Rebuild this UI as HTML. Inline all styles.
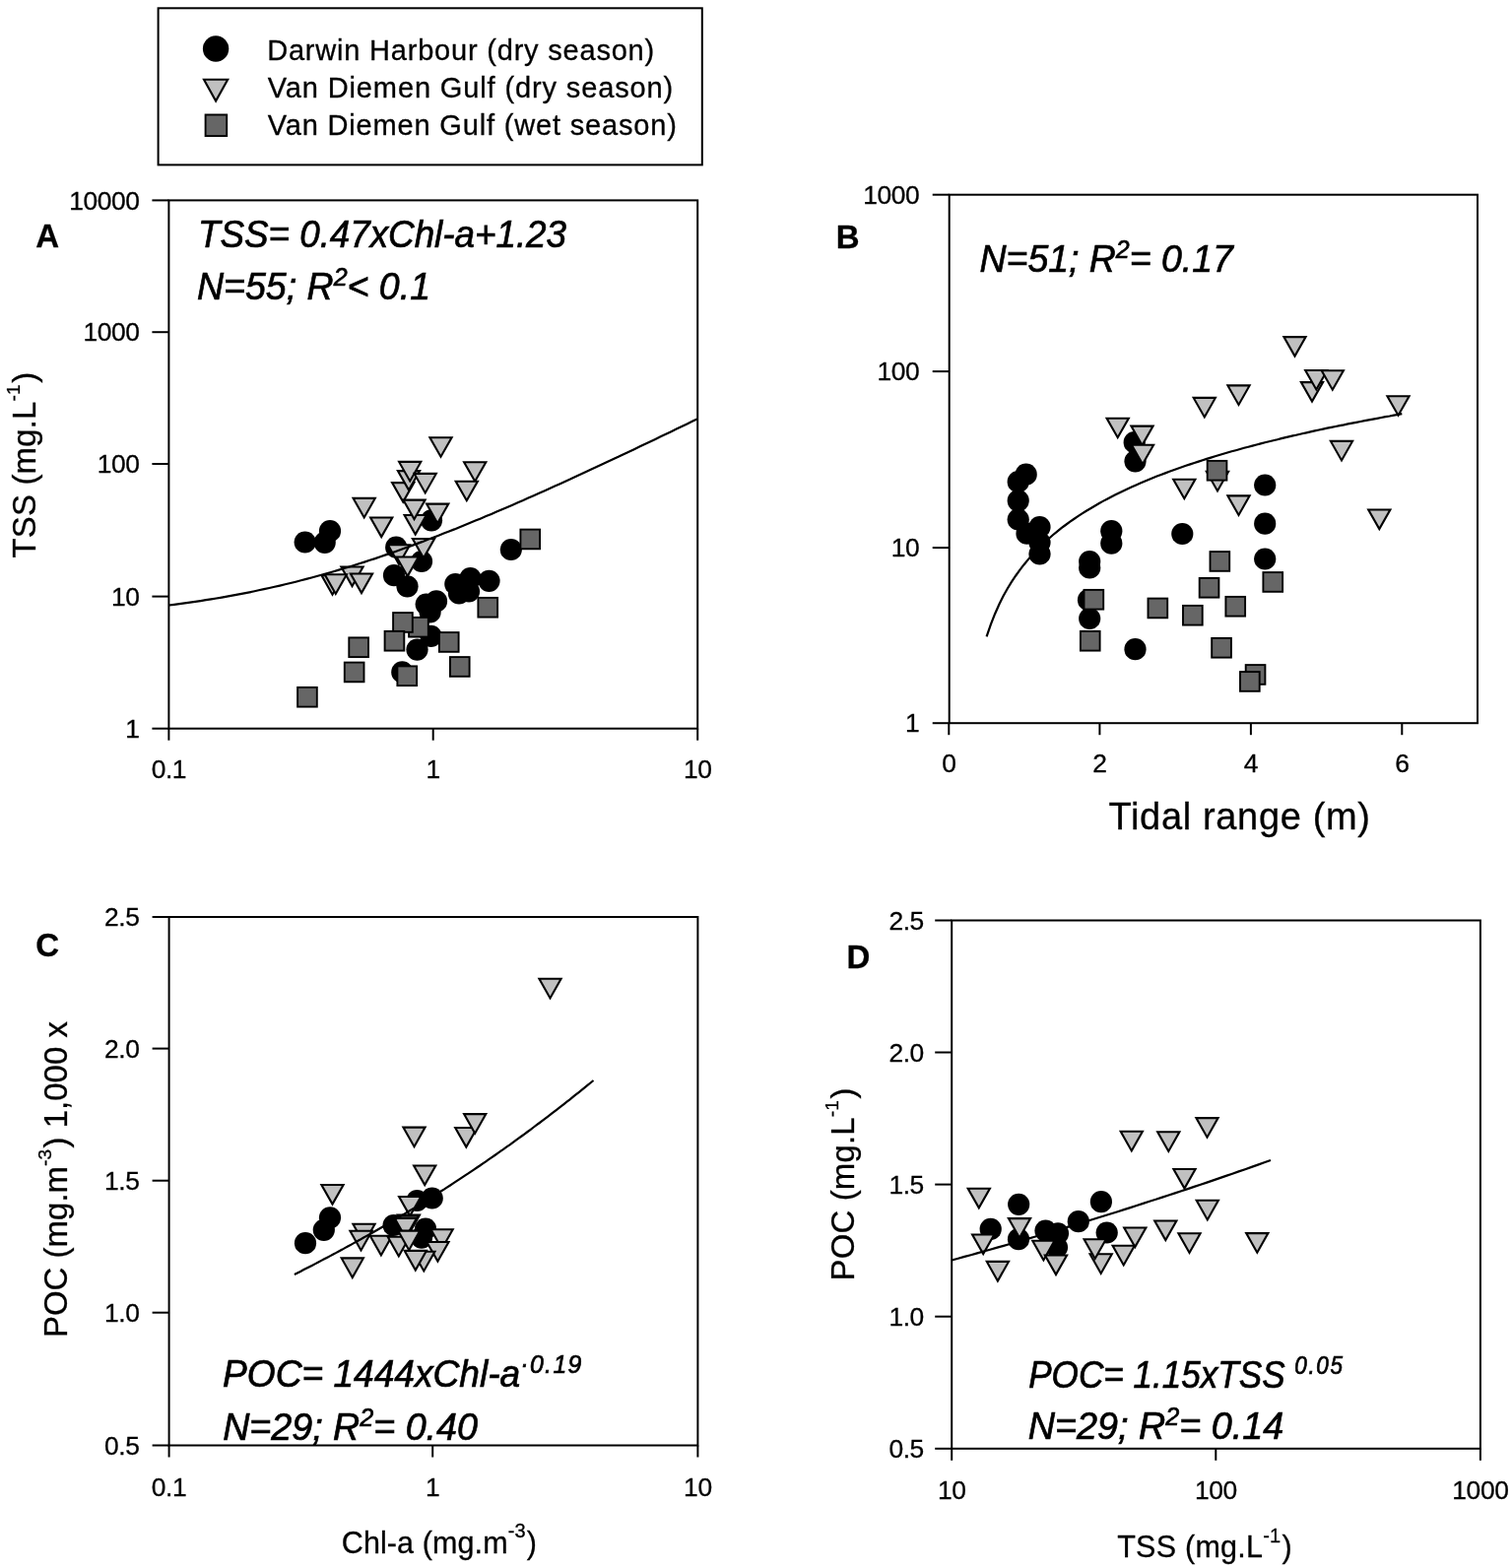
<!DOCTYPE html>
<html lang="en"><head><meta charset="utf-8"><title>TSS, Chl-a, POC and tidal range relationships</title>
<style>html,body{margin:0;padding:0;background:#fff}svg{display:block}text{font-family:'Liberation Sans', sans-serif;fill:#000;stroke:#000;stroke-width:0.3px}.it{stroke-width:0.7px}</style></head><body>
<svg width="1535" height="1592" viewBox="0 0 1535 1592">
<rect width="1535" height="1592" fill="#fff"/>
<g id="legend">
<rect x="160.6" y="8.3" width="552.2" height="159.1" fill="#fff" stroke="#000" stroke-width="2"/>
<circle cx="219.1" cy="49.5" r="13.2" fill="#000"/>
<path d="M207.0 80.8H231.2L219.1 102.6Z" fill="#c0c0c0" stroke="#000" stroke-width="2.1" stroke-linejoin="miter"/>
<rect x="208.6" y="116.5" width="21.6" height="21.6" fill="#666666" stroke="#000" stroke-width="1.9"/>
<text x="271.2" y="60.5" font-size="29" textLength="393.0" lengthAdjust="spacing">Darwin Harbour (dry season)</text>
<text x="271.7" y="99.0" font-size="29" textLength="411.5" lengthAdjust="spacing">Van Diemen Gulf (dry season)</text>
<text x="271.7" y="136.8" font-size="29" textLength="415.2" lengthAdjust="spacing">Van Diemen Gulf (wet season)</text>
</g>
<g id="plotA">
<rect x="171.4" y="203.4" width="536.8" height="536.3" fill="none" stroke="#000" stroke-width="2.0"/>
<line x1="154.4" y1="203.4" x2="171.4" y2="203.4" stroke="#000" stroke-width="2.0"/>
<text x="141.6" y="212.6" font-size="26.4" text-anchor="end" letter-spacing="-0.4">10000</text>
<line x1="154.4" y1="337.2" x2="171.4" y2="337.2" stroke="#000" stroke-width="2.0"/>
<text x="141.6" y="346.4" font-size="26.4" text-anchor="end" letter-spacing="-0.4">1000</text>
<line x1="154.4" y1="471.0" x2="171.4" y2="471.0" stroke="#000" stroke-width="2.0"/>
<text x="141.6" y="480.2" font-size="26.4" text-anchor="end" letter-spacing="-0.4">100</text>
<line x1="154.4" y1="605.6" x2="171.4" y2="605.6" stroke="#000" stroke-width="2.0"/>
<text x="141.6" y="614.8" font-size="26.4" text-anchor="end" letter-spacing="-0.4">10</text>
<line x1="154.4" y1="739.7" x2="171.4" y2="739.7" stroke="#000" stroke-width="2.0"/>
<text x="141.6" y="748.9" font-size="26.4" text-anchor="end" letter-spacing="-0.4">1</text>
<line x1="171.4" y1="739.7" x2="171.4" y2="751.7" stroke="#000" stroke-width="2.0"/>
<text x="171.4" y="790.2" font-size="26.4" text-anchor="middle" letter-spacing="-0.4">0.1</text>
<line x1="439.7" y1="739.7" x2="439.7" y2="751.7" stroke="#000" stroke-width="2.0"/>
<text x="439.7" y="790.2" font-size="26.4" text-anchor="middle" letter-spacing="-0.4">1</text>
<line x1="708.2" y1="739.7" x2="708.2" y2="751.7" stroke="#000" stroke-width="2.0"/>
<text x="708.2" y="790.2" font-size="26.4" text-anchor="middle" letter-spacing="-0.4">10</text>
<g><circle cx="309.7" cy="550.5" r="11.1" fill="#000"/><circle cx="329.7" cy="550.8" r="11.1" fill="#000"/><circle cx="335.0" cy="539.2" r="11.1" fill="#000"/><circle cx="402.2" cy="555.7" r="11.1" fill="#000"/><circle cx="438.0" cy="528.3" r="11.1" fill="#000"/><circle cx="428.0" cy="570.0" r="11.1" fill="#000"/><circle cx="400.0" cy="584.2" r="11.1" fill="#000"/><circle cx="413.5" cy="595.3" r="11.1" fill="#000"/><circle cx="518.8" cy="558.0" r="11.1" fill="#000"/><circle cx="462.3" cy="593.0" r="11.1" fill="#000"/><circle cx="477.5" cy="587.0" r="11.1" fill="#000"/><circle cx="496.5" cy="589.8" r="11.1" fill="#000"/><circle cx="466.0" cy="602.5" r="11.1" fill="#000"/><circle cx="476.0" cy="600.5" r="11.1" fill="#000"/><circle cx="432.7" cy="613.6" r="11.1" fill="#000"/><circle cx="443.0" cy="610.4" r="11.1" fill="#000"/><circle cx="436.6" cy="621.4" r="11.1" fill="#000"/><circle cx="437.5" cy="645.8" r="11.1" fill="#000"/><circle cx="423.5" cy="659.6" r="11.1" fill="#000"/><circle cx="408.3" cy="682.4" r="11.1" fill="#000"/></g>
<g><path d="M436.4 444.2H458.6L447.5 463.7Z" fill="#c0c0c0" stroke="#000" stroke-width="2.1" stroke-linejoin="miter"/><path d="M398.1 490.1H420.3L409.2 509.6Z" fill="#c0c0c0" stroke="#000" stroke-width="2.1" stroke-linejoin="miter"/><path d="M403.9 478.1H426.1L415.0 497.6Z" fill="#c0c0c0" stroke="#000" stroke-width="2.1" stroke-linejoin="miter"/><path d="M405.1 468.9H427.3L416.2 488.4Z" fill="#c0c0c0" stroke="#000" stroke-width="2.1" stroke-linejoin="miter"/><path d="M471.1 469.2H493.3L482.2 488.7Z" fill="#c0c0c0" stroke="#000" stroke-width="2.1" stroke-linejoin="miter"/><path d="M420.6 480.9H442.8L431.7 500.4Z" fill="#c0c0c0" stroke="#000" stroke-width="2.1" stroke-linejoin="miter"/><path d="M462.7 488.7H484.9L473.8 508.2Z" fill="#c0c0c0" stroke="#000" stroke-width="2.1" stroke-linejoin="miter"/><path d="M358.6 505.9H380.8L369.7 525.4Z" fill="#c0c0c0" stroke="#000" stroke-width="2.1" stroke-linejoin="miter"/><path d="M410.6 523.0H432.8L421.7 542.6Z" fill="#c0c0c0" stroke="#000" stroke-width="2.1" stroke-linejoin="miter"/><path d="M409.4 507.6H431.6L420.5 527.1Z" fill="#c0c0c0" stroke="#000" stroke-width="2.1" stroke-linejoin="miter"/><path d="M433.1 511.6H455.3L444.2 531.2Z" fill="#c0c0c0" stroke="#000" stroke-width="2.1" stroke-linejoin="miter"/><path d="M376.1 525.5H398.3L387.2 545.1Z" fill="#c0c0c0" stroke="#000" stroke-width="2.1" stroke-linejoin="miter"/><path d="M418.9 547.0H441.1L430.0 566.6Z" fill="#c0c0c0" stroke="#000" stroke-width="2.1" stroke-linejoin="miter"/><path d="M393.9 553.3H416.1L405.0 572.9Z" fill="#c0c0c0" stroke="#000" stroke-width="2.1" stroke-linejoin="miter"/><path d="M402.6 565.5H424.8L413.7 585.1Z" fill="#c0c0c0" stroke="#000" stroke-width="2.1" stroke-linejoin="miter"/><path d="M346.4 575.5H368.6L357.5 595.1Z" fill="#c0c0c0" stroke="#000" stroke-width="2.1" stroke-linejoin="miter"/><path d="M326.4 584.1H348.6L337.5 603.7Z" fill="#c0c0c0" stroke="#000" stroke-width="2.1" stroke-linejoin="miter"/><path d="M329.7 583.3H351.9L340.8 602.9Z" fill="#c0c0c0" stroke="#000" stroke-width="2.1" stroke-linejoin="miter"/><path d="M355.9 582.5H378.1L367.0 602.1Z" fill="#c0c0c0" stroke="#000" stroke-width="2.1" stroke-linejoin="miter"/></g>
<g><rect x="302.1" y="697.9" width="19.7" height="19.7" fill="#666666" stroke="#000" stroke-width="1.9"/><rect x="349.8" y="672.6" width="19.7" height="19.7" fill="#666666" stroke="#000" stroke-width="1.9"/><rect x="354.3" y="647.4" width="19.7" height="19.7" fill="#666666" stroke="#000" stroke-width="1.9"/><rect x="415.1" y="626.9" width="19.7" height="19.7" fill="#666666" stroke="#000" stroke-width="1.9"/><rect x="399.1" y="622.1" width="19.7" height="19.7" fill="#666666" stroke="#000" stroke-width="1.9"/><rect x="390.6" y="640.9" width="19.7" height="19.7" fill="#666666" stroke="#000" stroke-width="1.9"/><rect x="445.9" y="642.1" width="19.7" height="19.7" fill="#666666" stroke="#000" stroke-width="1.9"/><rect x="456.9" y="667.1" width="19.7" height="19.7" fill="#666666" stroke="#000" stroke-width="1.9"/><rect x="403.4" y="676.4" width="19.7" height="19.7" fill="#666666" stroke="#000" stroke-width="1.9"/><rect x="485.4" y="606.9" width="19.7" height="19.7" fill="#666666" stroke="#000" stroke-width="1.9"/><rect x="528.4" y="537.6" width="19.7" height="19.7" fill="#666666" stroke="#000" stroke-width="1.9"/></g>
<path d="M171.4 614.5 L176.8 613.8 L182.1 613.1 L187.5 612.4 L192.9 611.6 L198.2 610.9 L203.6 610.1 L209.0 609.2 L214.3 608.4 L219.7 607.5 L225.1 606.6 L230.4 605.6 L235.8 604.6 L241.2 603.6 L246.6 602.6 L251.9 601.6 L257.3 600.5 L262.7 599.3 L268.0 598.2 L273.4 597.0 L278.8 595.8 L284.1 594.6 L289.5 593.3 L294.9 592.0 L300.2 590.7 L305.6 589.3 L311.0 587.9 L316.3 586.5 L321.7 585.0 L327.1 583.5 L332.4 582.0 L337.8 580.5 L343.2 578.9 L348.5 577.3 L353.9 575.7 L359.3 574.0 L364.6 572.3 L370.0 570.6 L375.4 568.8 L380.8 567.1 L386.1 565.2 L391.5 563.4 L396.9 561.6 L402.2 559.7 L407.6 557.8 L413.0 555.8 L418.3 553.9 L423.7 551.9 L429.1 549.9 L434.4 547.8 L439.8 545.8 L445.2 543.7 L450.5 541.6 L455.9 539.5 L461.3 537.4 L466.6 535.2 L472.0 533.0 L477.4 530.8 L482.7 528.6 L488.1 526.4 L493.5 524.1 L498.8 521.9 L504.2 519.6 L509.6 517.3 L515.0 515.0 L520.3 512.7 L525.7 510.3 L531.1 508.0 L536.4 505.6 L541.8 503.2 L547.2 500.8 L552.5 498.4 L557.9 496.0 L563.3 493.6 L568.6 491.2 L574.0 488.7 L579.4 486.3 L584.7 483.8 L590.1 481.3 L595.5 478.8 L600.8 476.3 L606.2 473.8 L611.6 471.3 L616.9 468.8 L622.3 466.3 L627.7 463.8 L633.0 461.2 L638.4 458.7 L643.8 456.2 L649.2 453.6 L654.5 451.0 L659.9 448.5 L665.3 445.9 L670.6 443.3 L676.0 440.8 L681.4 438.2 L686.7 435.6 L692.1 433.0 L697.5 430.4 L702.8 427.8 L708.2 425.2" fill="none" stroke="#000" stroke-width="2.2" stroke-linecap="butt"/>
<text x="36.3" y="250.9" font-size="33" font-weight="bold">A</text>
<text class="it" transform="translate(201.0 250.6) scale(0.943 1)" font-size="39" font-style="italic">TSS= 0.47xChl-a+1.23</text>
<text class="it" transform="translate(200.0 303.6) scale(0.962 1)" font-size="39" font-style="italic">N=55; R<tspan font-size="26" dy="-14">2</tspan><tspan dy="14">&lt; 0.1</tspan></text>
<text x="35.8" y="566.5" font-size="32.9" letter-spacing="0.2" transform="rotate(-90 35.8 566.5)">TSS (mg.L<tspan font-size="19" dy="-16">-1</tspan><tspan dy="16" dx="1.5">)</tspan></text>
</g>
<g id="plotB">
<rect x="963.7" y="197.7" width="536.3" height="536.5" fill="none" stroke="#000" stroke-width="2.0"/>
<line x1="946.7" y1="197.7" x2="963.7" y2="197.7" stroke="#000" stroke-width="2.0"/>
<text x="933.4" y="206.9" font-size="26.4" text-anchor="end" letter-spacing="-0.4">1000</text>
<line x1="946.7" y1="377.1" x2="963.7" y2="377.1" stroke="#000" stroke-width="2.0"/>
<text x="933.4" y="386.3" font-size="26.4" text-anchor="end" letter-spacing="-0.4">100</text>
<line x1="946.7" y1="556.1" x2="963.7" y2="556.1" stroke="#000" stroke-width="2.0"/>
<text x="933.4" y="565.3" font-size="26.4" text-anchor="end" letter-spacing="-0.4">10</text>
<line x1="946.7" y1="734.2" x2="963.7" y2="734.2" stroke="#000" stroke-width="2.0"/>
<text x="933.4" y="743.4" font-size="26.4" text-anchor="end" letter-spacing="-0.4">1</text>
<line x1="963.3" y1="734.2" x2="963.3" y2="746.2" stroke="#000" stroke-width="2.0"/>
<text x="963.3" y="783.7" font-size="26.4" text-anchor="middle" letter-spacing="-0.4">0</text>
<line x1="1116.4" y1="734.2" x2="1116.4" y2="746.2" stroke="#000" stroke-width="2.0"/>
<text x="1116.4" y="783.7" font-size="26.4" text-anchor="middle" letter-spacing="-0.4">2</text>
<line x1="1269.9" y1="734.2" x2="1269.9" y2="746.2" stroke="#000" stroke-width="2.0"/>
<text x="1269.9" y="783.7" font-size="26.4" text-anchor="middle" letter-spacing="-0.4">4</text>
<line x1="1423.3" y1="734.2" x2="1423.3" y2="746.2" stroke="#000" stroke-width="2.0"/>
<text x="1423.3" y="783.7" font-size="26.4" text-anchor="middle" letter-spacing="-0.4">6</text>
<g><circle cx="1041.7" cy="481.7" r="11.1" fill="#000"/><circle cx="1033.7" cy="489.2" r="11.1" fill="#000"/><circle cx="1033.7" cy="508.3" r="11.1" fill="#000"/><circle cx="1033.7" cy="527.5" r="11.1" fill="#000"/><circle cx="1042.5" cy="541.7" r="11.1" fill="#000"/><circle cx="1055.5" cy="535.0" r="11.1" fill="#000"/><circle cx="1055.5" cy="550.8" r="11.1" fill="#000"/><circle cx="1055.5" cy="562.5" r="11.1" fill="#000"/><circle cx="1128.3" cy="539.2" r="11.1" fill="#000"/><circle cx="1128.3" cy="551.7" r="11.1" fill="#000"/><circle cx="1106.2" cy="570.0" r="11.1" fill="#000"/><circle cx="1106.2" cy="576.5" r="11.1" fill="#000"/><circle cx="1200.3" cy="542.0" r="11.1" fill="#000"/><circle cx="1151.7" cy="449.2" r="11.1" fill="#000"/><circle cx="1152.5" cy="468.3" r="11.1" fill="#000"/><circle cx="1105.0" cy="609.2" r="11.1" fill="#000"/><circle cx="1106.2" cy="628.0" r="11.1" fill="#000"/><circle cx="1152.5" cy="659.2" r="11.1" fill="#000"/><circle cx="1284.2" cy="492.5" r="11.1" fill="#000"/><circle cx="1284.2" cy="531.7" r="11.1" fill="#000"/><circle cx="1284.2" cy="567.5" r="11.1" fill="#000"/></g>
<g><path d="M1123.6 424.7H1145.8L1134.7 444.2Z" fill="#c0c0c0" stroke="#000" stroke-width="2.1" stroke-linejoin="miter"/><path d="M1148.4 432.6H1170.6L1159.5 452.1Z" fill="#c0c0c0" stroke="#000" stroke-width="2.1" stroke-linejoin="miter"/><path d="M1148.9 451.7H1171.1L1160.0 471.2Z" fill="#c0c0c0" stroke="#000" stroke-width="2.1" stroke-linejoin="miter"/><path d="M1211.7 403.9H1233.9L1222.8 423.4Z" fill="#c0c0c0" stroke="#000" stroke-width="2.1" stroke-linejoin="miter"/><path d="M1191.2 486.7H1213.4L1202.3 506.2Z" fill="#c0c0c0" stroke="#000" stroke-width="2.1" stroke-linejoin="miter"/><path d="M1224.9 478.9H1247.1L1236.0 498.4Z" fill="#c0c0c0" stroke="#000" stroke-width="2.1" stroke-linejoin="miter"/><path d="M1303.4 342.1H1325.6L1314.5 361.6Z" fill="#c0c0c0" stroke="#000" stroke-width="2.1" stroke-linejoin="miter"/><path d="M1320.9 388.1H1343.1L1332.0 407.6Z" fill="#c0c0c0" stroke="#000" stroke-width="2.1" stroke-linejoin="miter"/><path d="M1325.2 376.0H1347.4L1336.3 395.5Z" fill="#c0c0c0" stroke="#000" stroke-width="2.1" stroke-linejoin="miter"/><path d="M1341.7 376.2H1363.9L1352.8 395.7Z" fill="#c0c0c0" stroke="#000" stroke-width="2.1" stroke-linejoin="miter"/><path d="M1246.4 391.4H1268.6L1257.5 410.9Z" fill="#c0c0c0" stroke="#000" stroke-width="2.1" stroke-linejoin="miter"/><path d="M1408.4 402.2H1430.6L1419.5 421.7Z" fill="#c0c0c0" stroke="#000" stroke-width="2.1" stroke-linejoin="miter"/><path d="M1350.9 447.9H1373.1L1362.0 467.4Z" fill="#c0c0c0" stroke="#000" stroke-width="2.1" stroke-linejoin="miter"/><path d="M1246.4 503.4H1268.6L1257.5 522.9Z" fill="#c0c0c0" stroke="#000" stroke-width="2.1" stroke-linejoin="miter"/><path d="M1389.2 517.5H1411.4L1400.3 537.1Z" fill="#c0c0c0" stroke="#000" stroke-width="2.1" stroke-linejoin="miter"/></g>
<g><rect x="1225.7" y="467.9" width="19.7" height="19.7" fill="#666666" stroke="#000" stroke-width="1.9"/><rect x="1100.5" y="598.9" width="19.7" height="19.7" fill="#666666" stroke="#000" stroke-width="1.9"/><rect x="1096.9" y="640.9" width="19.7" height="19.7" fill="#666666" stroke="#000" stroke-width="1.9"/><rect x="1165.5" y="607.6" width="19.7" height="19.7" fill="#666666" stroke="#000" stroke-width="1.9"/><rect x="1201.0" y="614.9" width="19.7" height="19.7" fill="#666666" stroke="#000" stroke-width="1.9"/><rect x="1217.7" y="586.9" width="19.7" height="19.7" fill="#666666" stroke="#000" stroke-width="1.9"/><rect x="1228.5" y="560.1" width="19.7" height="19.7" fill="#666666" stroke="#000" stroke-width="1.9"/><rect x="1244.4" y="605.9" width="19.7" height="19.7" fill="#666666" stroke="#000" stroke-width="1.9"/><rect x="1282.4" y="581.1" width="19.7" height="19.7" fill="#666666" stroke="#000" stroke-width="1.9"/><rect x="1230.2" y="647.9" width="19.7" height="19.7" fill="#666666" stroke="#000" stroke-width="1.9"/><rect x="1264.7" y="675.1" width="19.7" height="19.7" fill="#666666" stroke="#000" stroke-width="1.9"/><rect x="1259.0" y="682.1" width="19.7" height="19.7" fill="#666666" stroke="#000" stroke-width="1.9"/></g>
<path d="M1001.6 646.3 L1005.9 633.9 L1010.1 623.2 L1014.3 613.7 L1018.5 605.3 L1022.7 597.8 L1026.9 590.9 L1031.2 584.5 L1035.4 578.7 L1039.6 573.2 L1043.8 568.1 L1048.0 563.3 L1052.2 558.8 L1056.5 554.6 L1060.7 550.5 L1064.9 546.7 L1069.1 543.0 L1073.3 539.6 L1077.5 536.2 L1081.8 533.0 L1086.0 529.9 L1090.2 527.0 L1094.4 524.1 L1098.6 521.4 L1102.8 518.7 L1107.1 516.2 L1111.3 513.7 L1115.5 511.3 L1119.7 508.9 L1123.9 506.7 L1128.1 504.5 L1132.4 502.3 L1136.6 500.2 L1140.8 498.2 L1145.0 496.2 L1149.2 494.3 L1153.4 492.4 L1157.7 490.6 L1161.9 488.8 L1166.1 487.0 L1170.3 485.3 L1174.5 483.6 L1178.7 482.0 L1183.0 480.4 L1187.2 478.8 L1191.4 477.3 L1195.6 475.7 L1199.8 474.3 L1204.0 472.8 L1208.3 471.4 L1212.5 470.0 L1216.7 468.6 L1220.9 467.2 L1225.1 465.9 L1229.3 464.6 L1233.6 463.3 L1237.8 462.0 L1242.0 460.8 L1246.2 459.5 L1250.4 458.3 L1254.6 457.2 L1258.9 456.0 L1263.1 454.8 L1267.3 453.7 L1271.5 452.6 L1275.7 451.5 L1279.9 450.4 L1284.2 449.3 L1288.4 448.2 L1292.6 447.2 L1296.8 446.2 L1301.0 445.1 L1305.2 444.1 L1309.5 443.1 L1313.7 442.2 L1317.9 441.2 L1322.1 440.2 L1326.3 439.3 L1330.5 438.4 L1334.8 437.4 L1339.0 436.5 L1343.2 435.6 L1347.4 434.7 L1351.6 433.9 L1355.9 433.0 L1360.1 432.1 L1364.3 431.3 L1368.5 430.4 L1372.7 429.6 L1376.9 428.8 L1381.2 428.0 L1385.4 427.2 L1389.6 426.4 L1393.8 425.6 L1398.0 424.8 L1402.2 424.0 L1406.5 423.2 L1410.7 422.5 L1414.9 421.7 L1419.1 421.0 L1423.3 420.2" fill="none" stroke="#000" stroke-width="2.2" stroke-linecap="butt"/>
<text x="848.8" y="251.9" font-size="33" font-weight="bold">B</text>
<text class="it" transform="translate(994.5 275.5) scale(0.96 1)" font-size="39" font-style="italic">N=51; R<tspan font-size="26" dy="-14">2</tspan><tspan dy="14">= 0.17</tspan></text>
<text x="1125.5" y="841.5" font-size="38" textLength="265.5" lengthAdjust="spacing" stroke-width="0.6">Tidal range (m)</text>
</g>
<g id="plotC">
<rect x="171.6" y="931.0" width="536.8" height="536.5" fill="none" stroke="#000" stroke-width="2.0"/>
<line x1="154.6" y1="931.0" x2="171.6" y2="931.0" stroke="#000" stroke-width="2.0"/>
<text x="141.5" y="940.2" font-size="26.4" text-anchor="end" letter-spacing="-0.4">2.5</text>
<line x1="154.6" y1="1064.6" x2="171.6" y2="1064.6" stroke="#000" stroke-width="2.0"/>
<text x="141.5" y="1073.8" font-size="26.4" text-anchor="end" letter-spacing="-0.4">2.0</text>
<line x1="154.6" y1="1198.7" x2="171.6" y2="1198.7" stroke="#000" stroke-width="2.0"/>
<text x="141.5" y="1207.9" font-size="26.4" text-anchor="end" letter-spacing="-0.4">1.5</text>
<line x1="154.6" y1="1332.7" x2="171.6" y2="1332.7" stroke="#000" stroke-width="2.0"/>
<text x="141.5" y="1341.9" font-size="26.4" text-anchor="end" letter-spacing="-0.4">1.0</text>
<line x1="154.6" y1="1467.5" x2="171.6" y2="1467.5" stroke="#000" stroke-width="2.0"/>
<text x="141.5" y="1476.7" font-size="26.4" text-anchor="end" letter-spacing="-0.4">0.5</text>
<line x1="171.6" y1="1467.5" x2="171.6" y2="1479.5" stroke="#000" stroke-width="2.0"/>
<text x="171.6" y="1518.7" font-size="26.4" text-anchor="middle" letter-spacing="-0.4">0.1</text>
<line x1="439.2" y1="1467.5" x2="439.2" y2="1479.5" stroke="#000" stroke-width="2.0"/>
<text x="439.2" y="1518.7" font-size="26.4" text-anchor="middle" letter-spacing="-0.4">1</text>
<line x1="708.4" y1="1467.5" x2="708.4" y2="1479.5" stroke="#000" stroke-width="2.0"/>
<text x="708.4" y="1518.7" font-size="26.4" text-anchor="middle" letter-spacing="-0.4">10</text>
<g><circle cx="310.0" cy="1262.2" r="11.1" fill="#000"/><circle cx="328.8" cy="1248.8" r="11.1" fill="#000"/><circle cx="335.0" cy="1236.3" r="11.1" fill="#000"/><circle cx="399.6" cy="1244.0" r="11.1" fill="#000"/><circle cx="423.4" cy="1219.0" r="11.1" fill="#000"/><circle cx="438.7" cy="1216.5" r="11.1" fill="#000"/><circle cx="432.0" cy="1247.7" r="11.1" fill="#000"/><circle cx="428.0" cy="1256.6" r="11.1" fill="#000"/></g>
<g><path d="M462.2 1145.0H484.4L473.3 1164.6Z" fill="#c0c0c0" stroke="#000" stroke-width="2.1" stroke-linejoin="miter"/><path d="M471.1 1131.1H493.3L482.2 1150.7Z" fill="#c0c0c0" stroke="#000" stroke-width="2.1" stroke-linejoin="miter"/><path d="M409.4 1144.6H431.6L420.5 1164.2Z" fill="#c0c0c0" stroke="#000" stroke-width="2.1" stroke-linejoin="miter"/><path d="M420.1 1183.5H442.3L431.2 1203.1Z" fill="#c0c0c0" stroke="#000" stroke-width="2.1" stroke-linejoin="miter"/><path d="M326.4 1203.0H348.6L337.5 1222.6Z" fill="#c0c0c0" stroke="#000" stroke-width="2.1" stroke-linejoin="miter"/><path d="M405.1 1215.0H427.3L416.2 1234.6Z" fill="#c0c0c0" stroke="#000" stroke-width="2.1" stroke-linejoin="miter"/><path d="M403.8 1233.5H426.0L414.9 1253.1Z" fill="#c0c0c0" stroke="#000" stroke-width="2.1" stroke-linejoin="miter"/><path d="M402.6 1234.8H424.8L413.7 1254.3Z" fill="#c0c0c0" stroke="#000" stroke-width="2.1" stroke-linejoin="miter"/><path d="M400.7 1237.0H422.9L411.8 1256.6Z" fill="#c0c0c0" stroke="#000" stroke-width="2.1" stroke-linejoin="miter"/><path d="M358.4 1242.8H380.6L369.5 1262.4Z" fill="#c0c0c0" stroke="#000" stroke-width="2.1" stroke-linejoin="miter"/><path d="M355.4 1249.8H377.6L366.5 1269.4Z" fill="#c0c0c0" stroke="#000" stroke-width="2.1" stroke-linejoin="miter"/><path d="M375.8 1254.8H398.0L386.9 1274.4Z" fill="#c0c0c0" stroke="#000" stroke-width="2.1" stroke-linejoin="miter"/><path d="M393.7 1255.8H415.9L404.8 1275.4Z" fill="#c0c0c0" stroke="#000" stroke-width="2.1" stroke-linejoin="miter"/><path d="M404.1 1249.6H426.3L415.2 1269.2Z" fill="#c0c0c0" stroke="#000" stroke-width="2.1" stroke-linejoin="miter"/><path d="M437.5 1248.3H459.7L448.6 1267.9Z" fill="#c0c0c0" stroke="#000" stroke-width="2.1" stroke-linejoin="miter"/><path d="M433.3 1261.0H455.5L444.4 1280.6Z" fill="#c0c0c0" stroke="#000" stroke-width="2.1" stroke-linejoin="miter"/><path d="M419.2 1270.8H441.4L430.3 1290.4Z" fill="#c0c0c0" stroke="#000" stroke-width="2.1" stroke-linejoin="miter"/><path d="M410.7 1269.9H432.9L421.8 1289.5Z" fill="#c0c0c0" stroke="#000" stroke-width="2.1" stroke-linejoin="miter"/><path d="M346.7 1277.4H368.9L357.8 1297.0Z" fill="#c0c0c0" stroke="#000" stroke-width="2.1" stroke-linejoin="miter"/><path d="M547.4 993.8H569.6L558.5 1013.4Z" fill="#c0c0c0" stroke="#000" stroke-width="2.1" stroke-linejoin="miter"/></g>
<g></g>
<path d="M298.9 1293.9 L301.9 1292.4 L305.0 1290.9 L308.0 1289.3 L311.0 1287.8 L314.1 1286.2 L317.1 1284.7 L320.1 1283.1 L323.2 1281.5 L326.2 1279.9 L329.2 1278.3 L332.3 1276.7 L335.3 1275.1 L338.3 1273.5 L341.4 1271.9 L344.4 1270.2 L347.5 1268.6 L350.5 1266.9 L353.5 1265.3 L356.6 1263.6 L359.6 1261.9 L362.6 1260.2 L365.7 1258.6 L368.7 1256.8 L371.7 1255.1 L374.8 1253.4 L377.8 1251.7 L380.8 1250.0 L383.9 1248.2 L386.9 1246.5 L390.0 1244.7 L393.0 1242.9 L396.0 1241.1 L399.1 1239.4 L402.1 1237.6 L405.1 1235.8 L408.2 1233.9 L411.2 1232.1 L414.2 1230.3 L417.3 1228.4 L420.3 1226.6 L423.3 1224.7 L426.4 1222.9 L429.4 1221.0 L432.5 1219.1 L435.5 1217.2 L438.5 1215.3 L441.6 1213.4 L444.6 1211.5 L447.6 1209.5 L450.7 1207.6 L453.7 1205.6 L456.7 1203.7 L459.8 1201.7 L462.8 1199.7 L465.9 1197.7 L468.9 1195.7 L471.9 1193.7 L475.0 1191.7 L478.0 1189.6 L481.0 1187.6 L484.1 1185.5 L487.1 1183.5 L490.1 1181.4 L493.2 1179.3 L496.2 1177.2 L499.2 1175.1 L502.3 1173.0 L505.3 1170.9 L508.4 1168.7 L511.4 1166.6 L514.4 1164.4 L517.5 1162.3 L520.5 1160.1 L523.5 1157.9 L526.6 1155.7 L529.6 1153.5 L532.6 1151.3 L535.7 1149.0 L538.7 1146.8 L541.7 1144.5 L544.8 1142.2 L547.8 1140.0 L550.9 1137.7 L553.9 1135.4 L556.9 1133.1 L560.0 1130.7 L563.0 1128.4 L566.0 1126.1 L569.1 1123.7 L572.1 1121.3 L575.1 1118.9 L578.2 1116.6 L581.2 1114.1 L584.2 1111.7 L587.3 1109.3 L590.3 1106.9 L593.4 1104.4 L596.4 1101.9 L599.4 1099.5 L602.5 1097.0" fill="none" stroke="#000" stroke-width="2.2" stroke-linecap="butt"/>
<text x="36.3" y="971.0" font-size="33" font-weight="bold">C</text>
<text class="it" transform="translate(226.0 1407.5) scale(0.952 1)" font-size="39" font-style="italic">POC= 1444xChl-a<tspan font-size="26" dy="-14" letter-spacing="1.5">&#183;0.19</tspan></text>
<text class="it" transform="translate(226.2 1461.5) scale(0.965 1)" font-size="39" font-style="italic">N=29; R<tspan font-size="26" dy="-14">2</tspan><tspan dy="14">= 0.40</tspan></text>
<text x="67.5" y="1358.0" font-size="32.9" letter-spacing="0.05" transform="rotate(-90 67.5 1358.0)">POC (mg.m<tspan font-size="19" dy="-15.5">-3</tspan><tspan dy="15.5" dx="1.5">) 1,000 x</tspan></text>
<text x="346.8" y="1576.5" font-size="30.5" letter-spacing="0.1">Chl-a (mg.m<tspan font-size="20" dy="-15.5">-3</tspan><tspan dy="15.5" dx="1">)</tspan></text>
</g>
<g id="plotD">
<rect x="966.2" y="934.5" width="536.7" height="536.3" fill="none" stroke="#000" stroke-width="2.0"/>
<line x1="949.2" y1="934.5" x2="966.2" y2="934.5" stroke="#000" stroke-width="2.0"/>
<text x="937.9" y="943.7" font-size="26.4" text-anchor="end" letter-spacing="-0.4">2.5</text>
<line x1="949.2" y1="1068.5" x2="966.2" y2="1068.5" stroke="#000" stroke-width="2.0"/>
<text x="937.9" y="1077.7" font-size="26.4" text-anchor="end" letter-spacing="-0.4">2.0</text>
<line x1="949.2" y1="1202.6" x2="966.2" y2="1202.6" stroke="#000" stroke-width="2.0"/>
<text x="937.9" y="1211.8" font-size="26.4" text-anchor="end" letter-spacing="-0.4">1.5</text>
<line x1="949.2" y1="1336.7" x2="966.2" y2="1336.7" stroke="#000" stroke-width="2.0"/>
<text x="937.9" y="1345.9" font-size="26.4" text-anchor="end" letter-spacing="-0.4">1.0</text>
<line x1="949.2" y1="1470.8" x2="966.2" y2="1470.8" stroke="#000" stroke-width="2.0"/>
<text x="937.9" y="1480.0" font-size="26.4" text-anchor="end" letter-spacing="-0.4">0.5</text>
<line x1="966.2" y1="1470.8" x2="966.2" y2="1482.8" stroke="#000" stroke-width="2.0"/>
<text x="966.2" y="1522.0" font-size="26.4" text-anchor="middle" letter-spacing="-0.4">10</text>
<line x1="1234.3" y1="1470.8" x2="1234.3" y2="1482.8" stroke="#000" stroke-width="2.0"/>
<text x="1234.3" y="1522.0" font-size="26.4" text-anchor="middle" letter-spacing="-0.4">100</text>
<line x1="1502.9" y1="1470.8" x2="1502.9" y2="1482.8" stroke="#000" stroke-width="2.0"/>
<text x="1502.9" y="1522.0" font-size="26.4" text-anchor="middle" letter-spacing="-0.4">1000</text>
<g><circle cx="1034.2" cy="1222.8" r="11.1" fill="#000"/><circle cx="1117.9" cy="1220.2" r="11.1" fill="#000"/><circle cx="1005.7" cy="1247.9" r="11.1" fill="#000"/><circle cx="1034.0" cy="1258.2" r="11.1" fill="#000"/><circle cx="1061.5" cy="1249.6" r="11.1" fill="#000"/><circle cx="1074.0" cy="1252.3" r="11.1" fill="#000"/><circle cx="1073.0" cy="1266.5" r="11.1" fill="#000"/><circle cx="1094.8" cy="1240.2" r="11.1" fill="#000"/><circle cx="1123.7" cy="1251.5" r="11.1" fill="#000"/></g>
<g><path d="M1214.4 1135.1H1236.6L1225.5 1154.7Z" fill="#c0c0c0" stroke="#000" stroke-width="2.1" stroke-linejoin="miter"/><path d="M1137.7 1148.8H1159.9L1148.8 1168.4Z" fill="#c0c0c0" stroke="#000" stroke-width="2.1" stroke-linejoin="miter"/><path d="M1175.2 1149.3H1197.4L1186.3 1168.9Z" fill="#c0c0c0" stroke="#000" stroke-width="2.1" stroke-linejoin="miter"/><path d="M1191.4 1187.0H1213.6L1202.5 1206.6Z" fill="#c0c0c0" stroke="#000" stroke-width="2.1" stroke-linejoin="miter"/><path d="M982.7 1206.8H1004.9L993.8 1226.3Z" fill="#c0c0c0" stroke="#000" stroke-width="2.1" stroke-linejoin="miter"/><path d="M1214.7 1218.8H1236.9L1225.8 1238.4Z" fill="#c0c0c0" stroke="#000" stroke-width="2.1" stroke-linejoin="miter"/><path d="M1023.9 1237.1H1046.1L1035.0 1256.7Z" fill="#c0c0c0" stroke="#000" stroke-width="2.1" stroke-linejoin="miter"/><path d="M1172.2 1239.5H1194.4L1183.3 1259.1Z" fill="#c0c0c0" stroke="#000" stroke-width="2.1" stroke-linejoin="miter"/><path d="M1141.2 1246.5H1163.4L1152.3 1266.1Z" fill="#c0c0c0" stroke="#000" stroke-width="2.1" stroke-linejoin="miter"/><path d="M1196.4 1252.3H1218.6L1207.5 1271.9Z" fill="#c0c0c0" stroke="#000" stroke-width="2.1" stroke-linejoin="miter"/><path d="M1265.2 1252.1H1287.4L1276.3 1271.7Z" fill="#c0c0c0" stroke="#000" stroke-width="2.1" stroke-linejoin="miter"/><path d="M987.1 1253.5H1009.3L998.2 1273.1Z" fill="#c0c0c0" stroke="#000" stroke-width="2.1" stroke-linejoin="miter"/><path d="M1106.6 1273.3H1128.8L1117.7 1292.9Z" fill="#c0c0c0" stroke="#000" stroke-width="2.1" stroke-linejoin="miter"/><path d="M1100.6 1258.3H1122.8L1111.7 1277.9Z" fill="#c0c0c0" stroke="#000" stroke-width="2.1" stroke-linejoin="miter"/><path d="M1048.3 1259.8H1070.5L1059.4 1279.4Z" fill="#c0c0c0" stroke="#000" stroke-width="2.1" stroke-linejoin="miter"/><path d="M1129.6 1264.8H1151.8L1140.7 1284.4Z" fill="#c0c0c0" stroke="#000" stroke-width="2.1" stroke-linejoin="miter"/><path d="M1060.9 1274.5H1083.1L1072.0 1294.1Z" fill="#c0c0c0" stroke="#000" stroke-width="2.1" stroke-linejoin="miter"/><path d="M1001.8 1280.9H1024.0L1012.9 1300.5Z" fill="#c0c0c0" stroke="#000" stroke-width="2.1" stroke-linejoin="miter"/></g>
<g></g>
<path d="M966.2 1279.5 L972.7 1277.7 L979.2 1275.9 L985.6 1274.2 L992.1 1272.4 L998.6 1270.5 L1005.1 1268.7 L1011.5 1266.9 L1018.0 1265.1 L1024.5 1263.2 L1031.0 1261.3 L1037.4 1259.5 L1043.9 1257.6 L1050.4 1255.7 L1056.9 1253.8 L1063.3 1251.9 L1069.8 1250.0 L1076.3 1248.0 L1082.8 1246.1 L1089.2 1244.1 L1095.7 1242.2 L1102.2 1240.2 L1108.7 1238.2 L1115.1 1236.2 L1121.6 1234.2 L1128.1 1232.2 L1134.6 1230.2 L1141.1 1228.1 L1147.5 1226.1 L1154.0 1224.0 L1160.5 1221.9 L1167.0 1219.8 L1173.4 1217.8 L1179.9 1215.6 L1186.4 1213.5 L1192.9 1211.4 L1199.3 1209.2 L1205.8 1207.1 L1212.3 1204.9 L1218.8 1202.8 L1225.2 1200.6 L1231.7 1198.4 L1238.2 1196.1 L1244.7 1193.9 L1251.1 1191.7 L1257.6 1189.4 L1264.1 1187.2 L1270.6 1184.9 L1277.0 1182.6 L1283.5 1180.3 L1290.0 1178.0" fill="none" stroke="#000" stroke-width="2.2" stroke-linecap="butt"/>
<text x="859.5" y="983.3" font-size="33" font-weight="bold">D</text>
<text class="it" transform="translate(1044.2 1408.5) scale(0.9 1)" font-size="39" font-style="italic">POC= 1.15xTSS <tspan font-size="25" dy="-14" letter-spacing="1.8">0.05</tspan></text>
<text class="it" transform="translate(1043.7 1461.4) scale(0.968 1)" font-size="39" font-style="italic">N=29; R<tspan font-size="26" dy="-14">2</tspan><tspan dy="14">= 0.14</tspan></text>
<text x="867.0" y="1300.5" font-size="32.9" letter-spacing="0.2" transform="rotate(-90 867.0 1300.5)">POC (mg.L<tspan font-size="19" dy="-16">-1</tspan><tspan dy="16" dx="1.5">)</tspan></text>
<text x="1134.2" y="1581.4" font-size="30.5" letter-spacing="0.25">TSS (mg.L<tspan font-size="20" dy="-15.5">-1</tspan><tspan dy="15.5" dx="1">)</tspan></text>
</g>
</svg></body></html>
